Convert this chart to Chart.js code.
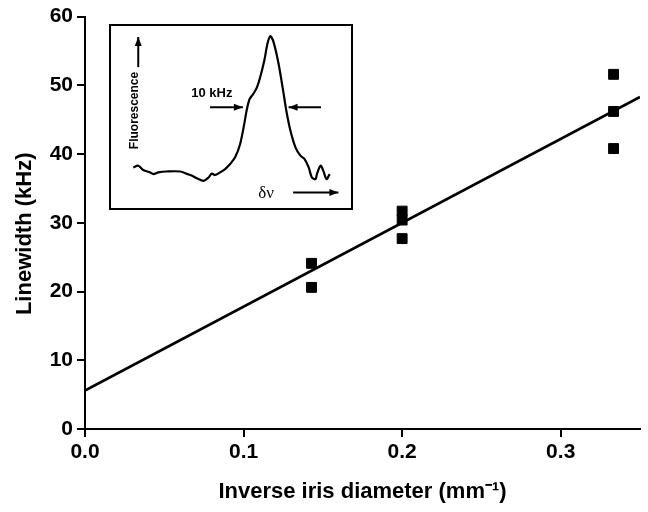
<!DOCTYPE html>
<html>
<head>
<meta charset="utf-8">
<script src="https://cdn.jsdelivr.net/npm/chart.js@4"></script>
<style>
  body { margin: 0; background: #fff; }
  #wrap { position: relative; width: 648px; height: 512px; }
  #main { position: absolute; left: 0; top: 0; }
  #inset { position: absolute; left: 109px; top: 24px; }
</style>
</head>
<body>
<div id="wrap">
  <canvas id="main" width="648" height="512"></canvas>
  <canvas id="inset" width="244" height="186"></canvas>
</div>
<script>
// measured linewidths vs inverse iris diameter
const irisInv = [1/7, 1/7, 0.2, 0.2, 0.2, 1/3, 1/3, 1/3];
const linewidth = [24.1, 20.6, 31.7, 30.4, 27.7, 51.6, 46.2, 40.8];
// linear fit end points
const fitX = [0, 0.35];
const fitY = [5.6, 48.3];
const yTicks = [0, 10, 20, 30, 40, 50, 60];
const xTicks = [0.0, 0.1, 0.2, 0.3];

// inset: fluorescence line shape vs detuning (kHz, arb. units)
const detuning = [-30.0, -28.9, -27.8, -26.3, -25.6, -24.5, -22.7, -19.7, -18.1, -17.1, -16.1, -14.6,
    -13.5, -12.8, -12.1, -11.0, -9.9, -8.8, -7.7, -6.6, -5.7, -5.1, -4.5, -3.7, -2.9, -2.2, -1.3,
    -0.6, 0.0, 0.7, 1.8, 2.8, 3.5, 4.4, 5.5, 6.6, 7.5, 8.4, 9.1, 9.9, 10.2, 11.0, 11.6, 12.3, 13.0];
const fluorescence = [22.9, 23.8, 21.5, 20.2, 19.3, 20.2, 20.7, 20.7, 19.3, 18.4, 17.1, 15.7,
    17.5, 19.6, 18.8, 20.2, 22.0, 24.7, 28.3, 35.5, 46.3, 54.4, 59.8, 62.5, 66.1, 71.5, 80.5,
    89.6, 93.5, 90.4, 78.8, 64.3, 53.5, 42.7, 33.7, 29.2, 27.4, 22.9, 17.5, 16.6, 19.3, 23.8, 21.1, 16.6, 19.3];

const FONT = "'Liberation Sans', Arial, sans-serif";

function axisStyle() {
    return {
        border: { display: true, color: '#000', width: 2 },
        grid: { display: true, drawOnChartArea: false, drawTicks: true, tickLength: 8, color: '#000', lineWidth: 2 },
    };
}

new Chart(document.getElementById('main'), {
    type: 'scatter',
    data: {
        datasets: [{
            data: irisInv.map((x, i) => ({x: x, y: linewidth[i]})),
            backgroundColor: '#000',
            borderColor: '#000',
            pointStyle: 'rect',
            pointRadius: 7,
            pointHoverRadius: 7
        }, {
            type: 'line',
            data: fitX.map((x, i) => ({x: x, y: fitY[i]})),
            borderColor: '#000',
            borderWidth: 2.6,
            pointRadius: 0,
            fill: false
        }]
    },
    options: {
        responsive: false,
        animation: false,
        layout: { padding: { top: 14, right: 5, left: 0, bottom: 0 } },
        plugins: { legend: { display: false }, tooltip: { enabled: false } },
        scales: {
            x: {
                type: 'linear',
                min: 0, max: 0.35,
                ...axisStyle(),
                afterBuildTicks: (s) => { s.ticks = xTicks.map(v => ({value: v})); },
                afterFit: (s) => { s.height = 83; },
                ticks: {
                    color: '#000', padding: 3,
                    font: { family: FONT, size: 21, weight: 'bold' },
                    callback: (v) => v.toFixed(1)
                },
                title: {
                    display: true, text: 'Inverse iris diameter (mm\u207B\u00B9)', color: '#000',
                    font: { family: FONT, size: 22, weight: 'bold' },
                    padding: { top: 0, bottom: 7 }
                }
            },
            y: {
                min: 0, max: 60,
                ...axisStyle(),
                afterBuildTicks: (s) => { s.ticks = yTicks.map(v => ({value: v})); },
                afterFit: (s) => { s.width = 85; },
                ticks: {
                    color: '#000', padding: 4,
                    font: { family: FONT, size: 21, weight: 'bold' }
                },
                title: {
                    display: true, text: 'Linewidth (kHz)\u2003', color: '#000',
                    font: { family: FONT, size: 22, weight: 'bold' },
                    padding: { top: 12, bottom: 0 }
                }
            }
        }
    }
});

// inset labels and arrows, placed in the inset's data units
const insetNotes = {
    id: 'insetNotes',
    beforeDraw(chart) {
        const c = chart.ctx;
        c.save();
        c.fillStyle = '#fff';
        c.fillRect(0, 0, chart.width, chart.height);
        c.restore();
    },
    afterDraw(chart) {
        const c = chart.ctx, xs = chart.scales.x, ys = chart.scales.y;
        const px = (v) => xs.getPixelForValue(v), py = (v) => ys.getPixelForValue(v);
        c.save();
        c.strokeStyle = '#000';
        c.fillStyle = '#000';
        c.lineWidth = 2;
        c.strokeRect(1, 1, chart.width - 2, chart.height - 2);

        function arrow(x0, y0, x1, y1) {
            const a = Math.atan2(y1 - y0, x1 - x0);
            c.lineWidth = 2;
            c.beginPath(); c.moveTo(x0, y0); c.lineTo(x1, y1); c.stroke();
            c.beginPath();
            c.moveTo(x1, y1);
            c.lineTo(x1 - 9 * Math.cos(a) + 3.5 * Math.sin(a), y1 - 9 * Math.sin(a) - 3.5 * Math.cos(a));
            c.lineTo(x1 - 9 * Math.cos(a) - 3.5 * Math.sin(a), y1 - 9 * Math.sin(a) + 3.5 * Math.cos(a));
            c.closePath(); c.fill();
        }
        arrow(px(-13.2), py(55.3), px(-6.0), py(55.3));
        arrow(px(11.1), py(55.3), px(4.0), py(55.3));
        arrow(px(5.0), py(9.4), px(14.9), py(9.4));
        arrow(px(-28.9), py(76.8), px(-28.9), py(93));

        c.textAlign = 'center';
        c.textBaseline = 'middle';
        c.font = 'bold 13px ' + FONT;
        c.fillText('10 kHz', px(-12.8), py(62.7));
        c.font = '17px "Liberation Serif", "Times New Roman", serif';
        c.fillText('\u03B4\u03BD', px(-0.9), py(9.0));
        c.translate(px(-29.7), py(53.5));
        c.rotate(-Math.PI / 2);
        c.font = 'bold 12px ' + FONT;
        c.fillText('Fluorescence', 0, 0);
        c.restore();
    }
};

new Chart(document.getElementById('inset'), {
    type: 'line',
    data: {
        datasets: [{
            data: detuning.map((x, i) => ({x: x, y: fluorescence[i]})),
            borderColor: '#000',
            borderWidth: 2.2,
            pointRadius: 0,
            tension: 0.3,
            fill: false
        }]
    },
    options: {
        responsive: false,
        animation: false,
        layout: { padding: 0 },
        plugins: { legend: { display: false }, tooltip: { enabled: false } },
        scales: {
            x: { type: 'linear', min: -35.3, max: 18.1, display: false },
            y: { min: 0, max: 100, display: false }
        }
    },
    plugins: [insetNotes]
});
</script>
</body>
</html>
